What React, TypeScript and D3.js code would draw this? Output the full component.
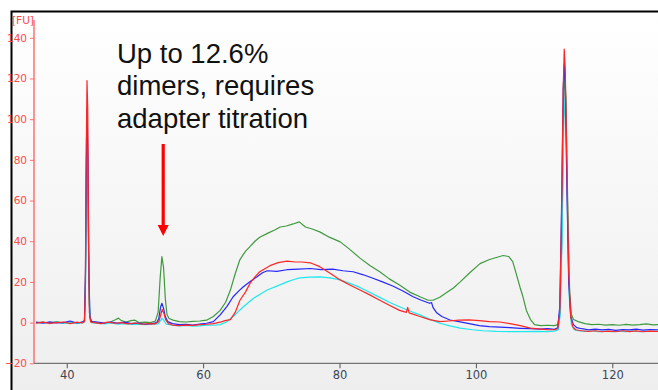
import React from "react";
import * as d3 from "d3";

const WIDTH = 658;
const HEIGHT = 390;

// electropherogram traces, [time s, FU]
const greenTrace: [number, number][] = [
    [35.5, 0], [36.5, 0.3], [37.5, -0.2], [38.5, 0.5], [39.5, -0.3], [40.5, 0.2], [41.5, -0.4], [42.3, 0.3],
    [42.6, 0.5], [42.75, 20], [42.9, 80], [43.0, 96], [43.1, 70], [43.2, 30], [43.3, 9], [43.45, 2], [43.7, 0.5],
    [44.5, 0], [45.5, -0.3], [46.5, 0.4], [47.2, 1.5], [47.6, 2.2], [48, 1], [48.7, 0.3], [49.4, 1], [50, 1.2],
    [50.6, 0], [51.5, 0.2], [52.3, 0], [53.0, 0.8], [53.4, 5], [53.7, 22], [53.95, 32.5], [54.2, 27], [54.45, 12],
    [54.7, 4], [55.0, 2], [55.6, 1.2], [56.5, 0.5], [57.5, 0.3], [58.5, 0.6], [59.5, 0.8], [60.5, 1.2], [61.5, 3],
    [62.5, 6], [63.3, 10], [64.0, 16], [64.7, 24], [65.4, 31], [66.2, 35], [66.9, 37.5], [67.6, 40], [68.3, 42],
    [69.5, 44], [70.5, 45.5], [71.3, 47], [72.2, 47.5], [73.2, 48.5], [74.1, 49.5], [75, 47], [76, 46], [77.1, 44.6],
    [78.5, 42], [80.1, 39.7], [81.5, 36], [83, 31.7], [84.5, 28], [85.9, 25], [87.3, 21.5], [88.8, 18.5], [90.3, 15],
    [91.8, 12.7], [93.0, 11], [93.7, 11], [94.7, 12.5], [95.6, 14.5], [96.7, 17], [97.7, 20], [99.1, 24.5],
    [100.6, 29], [102, 31], [103, 32], [104, 33], [104.8, 32.5], [105.4, 30], [106, 23], [106.5, 17], [106.9, 12.7],
    [107.4, 6], [108, 1.5], [108.6, -1], [109.5, -1.5], [110.5, -1.3], [111.5, -1.5], [112.0, -1], [112.3, 5],
    [112.6, 40], [112.85, 100], [113.0, 124], [113.2, 110], [113.45, 60], [113.75, 15], [114.0, 4], [114.3, 1.5],
    [115, 0.5], [116, -0.5], [117, -1], [118, -0.8], [119, -1.2], [120, -1], [121, -1.3], [122, -0.9], [123, -1.2],
    [124, -1], [125, -0.6], [126, -1.1], [126.7, -1],
];

const redTrace: [number, number][] = [
    [35.5, -0.3], [36.5, 0.2], [37.5, -0.4], [38.5, 0], [39.5, 0.3], [40.5, -0.5], [41.5, 0.2], [42.3, -0.2],
    [42.6, 0.5], [42.72, 15], [42.85, 80], [42.97, 119], [43.08, 105], [43.2, 40], [43.32, 5], [43.5, 0.3], [44, 0],
    [45, -0.5], [46, 0.2], [47, -0.3], [48, 0], [49, -0.6], [50, -0.2], [51, -0.8], [52, -0.5], [53, -0.6],
    [53.5, 0.5], [53.8, 4], [54.0, 6.5], [54.25, 4.5], [54.5, 1.5], [54.9, -0.5], [55.5, -1.2], [56.5, -1.5],
    [57.5, -1.2], [58.5, -1.4], [59.5, -1], [60.5, -0.8], [61.5, -0.5], [62.5, 0.2], [63.2, 1], [64, 1.5], [64.7, 5],
    [65.4, 11], [66.2, 15], [66.9, 19.4], [67.6, 22.5], [68.3, 25], [69.8, 28], [71, 29.5], [72.3, 30.2],
    [73.5, 29.8], [74.5, 29.8], [75.7, 29.4], [77.1, 27.5], [78.5, 24.5], [80.1, 21], [81.5, 18.5], [83, 16],
    [84.5, 13.5], [85.9, 11], [87.3, 8.5], [88.8, 6], [89.8, 5], [90.0, 7.5], [90.2, 4.8], [91.8, 3], [93.2, 1.5],
    [94.7, 0.5], [96, 0.8], [97.5, 1.2], [99, 1.3], [100.5, 1], [102, 0.5], [103.5, 0.3], [105, -0.5], [106.5, -1.5],
    [108, -2.7], [109.5, -3.2], [110.5, -3.5], [111.5, -3.5], [112.0, -3], [112.3, 5], [112.55, 50], [112.8, 115],
    [112.95, 134.5], [113.1, 125], [113.35, 75], [113.6, 25], [113.9, 3], [114.2, -2], [114.6, -3.5], [115.5, -4],
    [116.5, -4.3], [117.5, -4], [118.5, -4.5], [119.5, -4.2], [120.5, -4.5], [121.5, -4], [122.5, -4.4],
    [123.5, -4.1], [124.5, -4.5], [125.5, -4.2], [126.7, -4.3],
];

const blueTrace: [number, number][] = [
    [35.5, 0.2], [36.5, -0.3], [37.5, 0.4], [38.5, -0.2], [39.5, 0], [40.5, 0.8], [41.5, -0.2], [42.3, 0.2],
    [42.6, 1], [42.75, 25], [42.9, 90], [43.0, 105], [43.12, 80], [43.25, 25], [43.4, 3], [43.6, 0.5], [44.5, 0.3],
    [45.5, -0.2], [46.5, 0.3], [47.5, -0.3], [48.5, 0.2], [49.5, -0.5], [50.5, -0.3], [51.5, -0.8], [52.5, -0.5],
    [53.2, 0], [53.5, 2], [53.75, 7.5], [53.95, 9.5], [54.2, 7], [54.45, 3], [54.8, 0.5], [55.5, -0.5], [56.5, -1],
    [57.5, -0.8], [58.5, -1.2], [59.5, -0.7], [60.5, -0.3], [61.5, 0.5], [62.5, 3.8], [63.5, 8], [64.4, 12.7],
    [65.2, 15.5], [65.9, 17.6], [67, 20.5], [67.9, 22.5], [68.7, 24.5], [69.4, 25.5], [70.8, 25.2], [72.3, 26],
    [74, 26.3], [75.7, 26.6], [77.3, 26], [79, 26.3], [80.5, 25.5], [82, 25], [83.5, 23.5], [84.9, 21.8],
    [86.3, 20], [87.8, 18], [89.3, 15.5], [90.8, 12.7], [92, 11], [93.2, 9.5], [93.5, 9.8], [93.7, 7.5], [94.2, 5],
    [95, 3], [96.2, 1.3], [97.5, 0.5], [99, -0.5], [100.5, -1.5], [102, -2], [103.5, -2.2], [105, -2.5],
    [106.5, -2.8], [108, -3], [109.5, -3.2], [110.5, -3], [111.5, -3.3], [112.0, -2.5], [112.3, 8], [112.55, 55],
    [112.8, 115], [112.95, 127], [113.1, 118], [113.35, 65], [113.6, 20], [113.9, 3], [114.3, -1], [114.8, -2.5],
    [115.5, -3], [116.5, -3.5], [117.5, -3.2], [118.5, -3.6], [119.5, -3.3], [120.5, -3.8], [121.5, -3.4],
    [122.5, -3.6], [123.5, -3.2], [124.5, -3.7], [125.5, -3.4], [126.7, -3.5],
];

const cyanTrace: [number, number][] = [
    [35.5, -0.2], [36.5, 0.1], [37.5, -0.5], [38.5, 0.2], [39.5, -0.3], [40.5, 0], [41.5, -0.4], [42.3, 0],
    [42.6, 0.5], [42.75, 20], [42.9, 75], [43.0, 92], [43.1, 75], [43.25, 22], [43.4, 2], [43.6, 0], [44.5, -0.3],
    [45.5, -0.6], [46.5, -0.2], [47.5, -0.8], [48.5, -0.5], [49.5, -0.9], [50.5, -0.7], [51.5, -1], [52.5, -0.8],
    [53.4, -0.6], [53.8, 1.2], [54.0, 2.2], [54.25, 1], [54.6, -0.8], [55.5, -1.3], [56.5, -1.6], [57.5, -1.4],
    [58.5, -1.7], [59.5, -1.6], [60.5, -1.2], [61.5, -1.3], [62.5, -1], [63.4, 0.3], [64.4, 3], [65.2, 5.5],
    [65.9, 7.8], [67.4, 12], [68.3, 13.8], [69.4, 16], [71, 18.2], [72.3, 20], [73.3, 21.2], [74.2, 22],
    [75.6, 22.4], [77.1, 22.5], [78.6, 22], [80.1, 21], [81.5, 19.3], [83, 17.3], [84.5, 14.8], [85.9, 12.4],
    [87.3, 10], [88.8, 7.8], [90.3, 5.7], [91.8, 3.8], [93.2, 1.7], [94.7, -0.3], [96.2, -1.6], [97.7, -2.7],
    [99.5, -3.5], [101, -4], [103, -4.3], [105, -4.4], [107, -4.4], [109, -4.3], [110.5, -4.4], [111.5, -4.2],
    [112.1, -3.5], [112.4, 5], [112.65, 45], [112.9, 100], [113.05, 110], [113.2, 95], [113.45, 50], [113.7, 12],
    [114, -1], [114.4, -3.5], [115, -4], [116, -4.3], [117, -4], [118, -4.4], [119, -4.2], [120, -4.5], [121, -4.2],
    [122, -4.4], [123, -4.1], [124, -4.5], [125, -4.3], [126.7, -4.3],
];

const X_TICKS = [40, 60, 80, 100, 120];
const Y_TICKS = [-20, 0, 20, 40, 60, 80, 100, 120, 140];
const NOTE_LINES = ["Up to 12.6%", "dimers, requires", "adapter titration"];
const DIMER_TIME = 54.0;

const SERIES = [
    {data: greenTrace, color: "#3f9a3f"},
    {data: cyanTrace, color: "#1ee8ee"},
    {data: blueTrace, color: "#2626ff"},
    {data: redTrace, color: "#ff2626"},
];

export default class App extends React.Component<{}, any> {

    ref = React.createRef<SVGSVGElement>();

    componentDidMount() {
        const svg = d3.select(this.ref.current);
        svg.selectAll("*").remove();

        const x = d3.scaleLinear().domain([35.2, 126.7]).range([34, 658]);
        const y = d3.scaleLinear().domain([-20, 140]).range([363.3, 37.8]);

        const defs = svg.append("defs");
        const grad = defs.append("linearGradient")
            .attr("id", "bg").attr("x1", 0).attr("y1", 0).attr("x2", 0).attr("y2", 1);
        grad.append("stop").attr("offset", "0%").attr("stop-color", "#ffffff");
        grad.append("stop").attr("offset", "100%").attr("stop-color", "#eeeeee");
        defs.append("clipPath").attr("id", "plot")
            .append("rect").attr("x", 35).attr("y", 14).attr("width", WIDTH - 35).attr("height", 348);

        svg.append("rect").attr("width", WIDTH).attr("height", HEIGHT).attr("fill", "#fff");
        svg.append("rect").attr("x", 12).attr("y", 12).attr("width", WIDTH - 12).attr("height", HEIGHT - 12)
            .attr("fill", "url(#bg)");

        // frame
        svg.append("path")
            .attr("d", `M11.5,${HEIGHT} V11.5 H${WIDTH}`)
            .attr("fill", "none").attr("stroke", "#000").attr("stroke-width", 2);

        // y axis
        const yAxis = svg.append("g").attr("transform", "translate(34,0)")
            .call(d3.axisLeft(y).tickValues(Y_TICKS).tickSize(4).tickPadding(3));
        yAxis.select(".domain").attr("d", `M0,20 V${y(-20)}`).attr("stroke", "#ff7070").attr("stroke-width", 1.5);
        yAxis.selectAll(".tick line").attr("stroke", "#ff7070");
        yAxis.selectAll(".tick text")
            .attr("fill", "#ff4a4a").attr("font-family", "DejaVu Sans").attr("font-size", 10.5);
        svg.append("text").attr("x", 12).attr("y", 23.5).text("[FU]")
            .attr("fill", "#ff4a4a").attr("font-family", "DejaVu Sans").attr("font-size", 10.5);

        // x axis
        const xAxis = svg.append("g").attr("transform", `translate(0,${y(-20)})`)
            .call(d3.axisBottom(x).tickValues(X_TICKS).tickSize(5).tickPadding(3));
        xAxis.select(".domain").attr("d", `M34,0 H${WIDTH}`).attr("stroke", "#555");
        xAxis.selectAll(".tick line").attr("stroke", "#555");
        xAxis.selectAll(".tick text")
            .attr("fill", "#3d4655").attr("font-family", "DejaVu Sans").attr("font-size", 11.5);

        const line = d3.line<[number, number]>()
            .x(d => x(d[0]))
            .y(d => y(d[1]));

        svg.append("g").attr("clip-path", "url(#plot)")
            .selectAll("path")
            .data(SERIES)
            .enter()
            .append("path")
            .attr("d", d => line(d.data))
            .attr("fill", "none")
            .attr("stroke", d => d.color)
            .attr("stroke-width", 1.2)
            .attr("stroke-linejoin", "round");

        // annotation
        const note = svg.append("text")
            .attr("font-family", "Liberation Sans, Arial, sans-serif")
            .attr("font-size", 27.5)
            .attr("fill", "#111");
        note.selectAll("tspan")
            .data(NOTE_LINES)
            .enter()
            .append("tspan")
            .attr("x", 117)
            .attr("y", (d, i) => 63 + i * 32.3)
            .text(d => d);

        const ax = x(DIMER_TIME) + 1;
        svg.append("line")
            .attr("x1", ax).attr("x2", ax).attr("y1", 144).attr("y2", 227)
            .attr("stroke", "#ff0000").attr("stroke-width", 3.2);
        svg.append("path")
            .attr("d", `M${ax - 5.5},225 L${ax + 5.5},225 L${ax},236 Z`)
            .attr("fill", "#ff0000");
    }

    render() {
        return <div style={{position: "absolute", left: 0, top: 0}}>
            <svg ref={this.ref} width={WIDTH} height={HEIGHT} style={{display: "block"}}/>
        </div>
    }
}
